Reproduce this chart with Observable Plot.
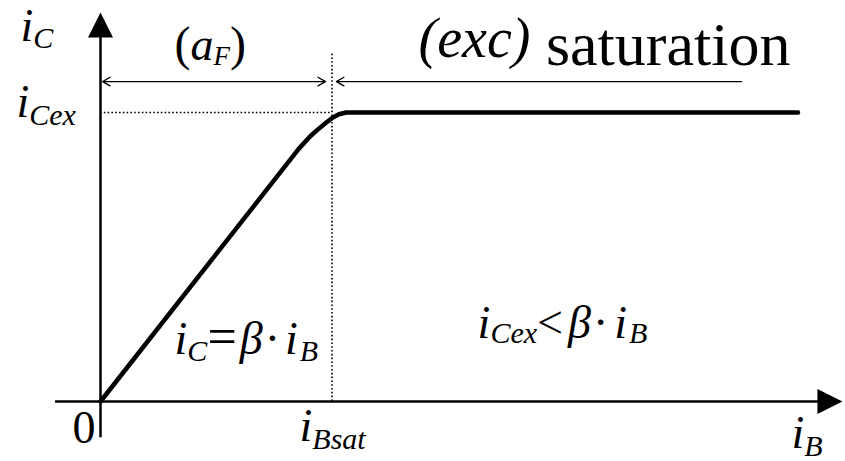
<!DOCTYPE html>
<html><head><meta charset="utf-8">
<script src="https://cdn.jsdelivr.net/npm/d3@7"></script>
<script src="https://cdn.jsdelivr.net/npm/@observablehq/plot@0.6"></script>
<style>html,body{margin:0;padding:0;background:#fff;font-family:"Liberation Serif","Times New Roman",serif;} svg{display:block}
#warm{position:absolute;left:0;top:0;font-family:"Liberation Serif";font-size:2px;color:#fff;pointer-events:none}</style>
</head><body><div id="warm"><i>&nbsp;</i>&nbsp;</div><div id="chart"></div>
<script>
// ---- data (units: iB in iBsat, iC in iCex) ----
const iBsat = 1;
const iCex = 1;
const curveIB = [0, 0.857, 0.905, 0.944, 0.978, 1.004, 1.030, 1.061, 3.013];
const curveIC = [0, 0.875, 0.917, 0.945, 0.967, 0.983, 0.994, 1.0, 1.0];
const spanFrom = [0.49, 0.49, 2.769];
const spanTo   = [0.009, 0.972, 1.019];
const spanLevel = 1.107;
const axisTipIB = 3.205;
const axisTipIC = 1.346;

// label texts
const txtYAxis = ["i", "C"];
const txtCex = ["i", "Cex"];
const txtActive = ["(", "a", "F", ")"];
const txtSat = ["(exc)", " saturation"];
const txtZero = ["0"];
const txtBsat = ["i", "Bsat"];
const txtXAxis = ["i", "B"];
const txtLin = ["i", "C", "=", "\u03B2", "\u00B7", "i", "B"];
const txtSatRel = ["i", "Cex", "<", "\u03B2", "\u00B7", "i", "B"];

// ---- helpers ----
const FONT = "Liberation Serif, Times New Roman, serif";
const I = (t, o = {}) => ({t, it: true, size: 46, off: 0, ...o});
const R = (t, o = {}) => ({t, it: false, size: 46, off: 0, ...o});
const S = (t, off = 7, o = {}) => ({t, it: true, size: 30, off, ...o});

const labels = [
  {x: -0.346, y: 1.249, parts: [I(txtYAxis[0]), S(txtYAxis[1], 7)]},
  {x: -0.363, y: 0.983, parts: [I(txtCex[0]), S(txtCex[1], 8)]},
  {x: 0.320, y: 1.180, parts: [R(txtActive[0], {size: 48}), I(txtActive[1]), S(txtActive[2], 5, {size: 27}), R(txtActive[3], {size: 48})]},
  {x: 1.374, y: 1.163, parts: [I(txtSat[0], {size: 56, off: -8}), R(txtSat[1], {size: 62})]},
  {x: -0.121, y: -0.145, parts: [R(txtZero[0])]},
  {x: 0.860, y: -0.135, parts: [I(txtBsat[0]), S(txtBsat[1], 8)]},
  {x: 2.985, y: -0.160, parts: [I(txtXAxis[0]), S(txtXAxis[1], 8)]},
  {x: 0.320, y: 0.166, parts: [I(txtLin[0]), S(txtLin[1], 7), R(txtLin[2], {size: 52}), I(txtLin[3], {dx: 3}), R(txtLin[4], {dx: 2}), I(txtLin[5], {dx: 5}), S(txtLin[6], 7, {dx: 2})]},
  {x: 1.629, y: 0.221, parts: [I(txtSatRel[0]), S(txtSatRel[1], 5), R(txtSatRel[2]), I(txtSatRel[3], {dx: 5}), R(txtSatRel[4], {dx: 2}), I(txtSatRel[5], {dx: 6}), S(txtSatRel[6], 5, {dx: 2})]}
];

const curve = curveIB.map((x, i) => ({x, y: curveIC[i]}));
const arrows = spanFrom.map((x1, i) => ({x1, x2: spanTo[i], y: spanLevel}));
const tips = [{x: 0, y: axisTipIC, r: 0}, {x: axisTipIB, y: 0, r: 90}];

const tri = {draw(ctx) { ctx.moveTo(0, 0); ctx.lineTo(12.5, 25); ctx.lineTo(-12.5, 25); ctx.closePath(); }};

const chart = Plot.plot({
  width: 845, height: 461, margin: 0,
  x: {domain: [-100 / 231.5, 745 / 231.5], axis: null},
  y: {domain: [(401 - 461) / 289, 401 / 289], axis: null},
  marks: [
    Plot.ruleY([0], {x1: -0.194, x2: 3.12, stroke: "black", strokeWidth: 2.5}),
    Plot.ruleX([0], {y1: -0.125, y2: 1.27, stroke: "black", strokeWidth: 2.5}),
    Plot.ruleX([iBsat], {y1: 0, y2: 1.204, stroke: "black", strokeWidth: 1.6, strokeDasharray: "1.6,2.2"}),
    Plot.ruleY([iCex], {x1: 0, x2: iBsat, stroke: "black", strokeWidth: 1.6, strokeDasharray: "1.6,2.2"}),
    Plot.line(curve, {x: "x", y: "y", stroke: "black", strokeWidth: 4.5, strokeLinecap: "round", strokeLinejoin: "round"}),
    Plot.arrow(arrows, {x1: "x1", x2: "x2", y1: "y", y2: "y", stroke: "black", strokeWidth: 1.3, headLength: 10, headAngle: 60}),
    Plot.dot(tips, {x: "x", y: "y", rotate: "r", symbol: tri, r: 10, fill: "black", stroke: "none"}),
    Plot.text(labels, {x: "x", y: "y", text: (d, i) => "L" + i, textAnchor: "start", fill: "black", fontFamily: FONT})
  ]
});
chart.setAttribute("font-family", FONT);
document.getElementById("chart").appendChild(chart);

// rich text (subscripts) for labels
const NS = "http://www.w3.org/2000/svg";
const textG = chart.querySelector('g[aria-label="text"]');
textG.querySelectorAll("text").forEach((t, i) => {
  const L = labels[i];
  t.removeAttribute("y");
  t.textContent = "";
  let cur = 0;
  for (const p of L.parts) {
    const ts = document.createElementNS(NS, "tspan");
    ts.textContent = p.t;
    ts.setAttribute("font-size", p.size);
    ts.setAttribute("font-style", p.it ? "italic" : "normal");
    const dy = p.off - cur;
    if (dy) ts.setAttribute("dy", dy);
    if (p.dx) ts.setAttribute("dx", p.dx);
    cur = p.off;
    t.appendChild(ts);
  }
});
</script>
</body></html>
